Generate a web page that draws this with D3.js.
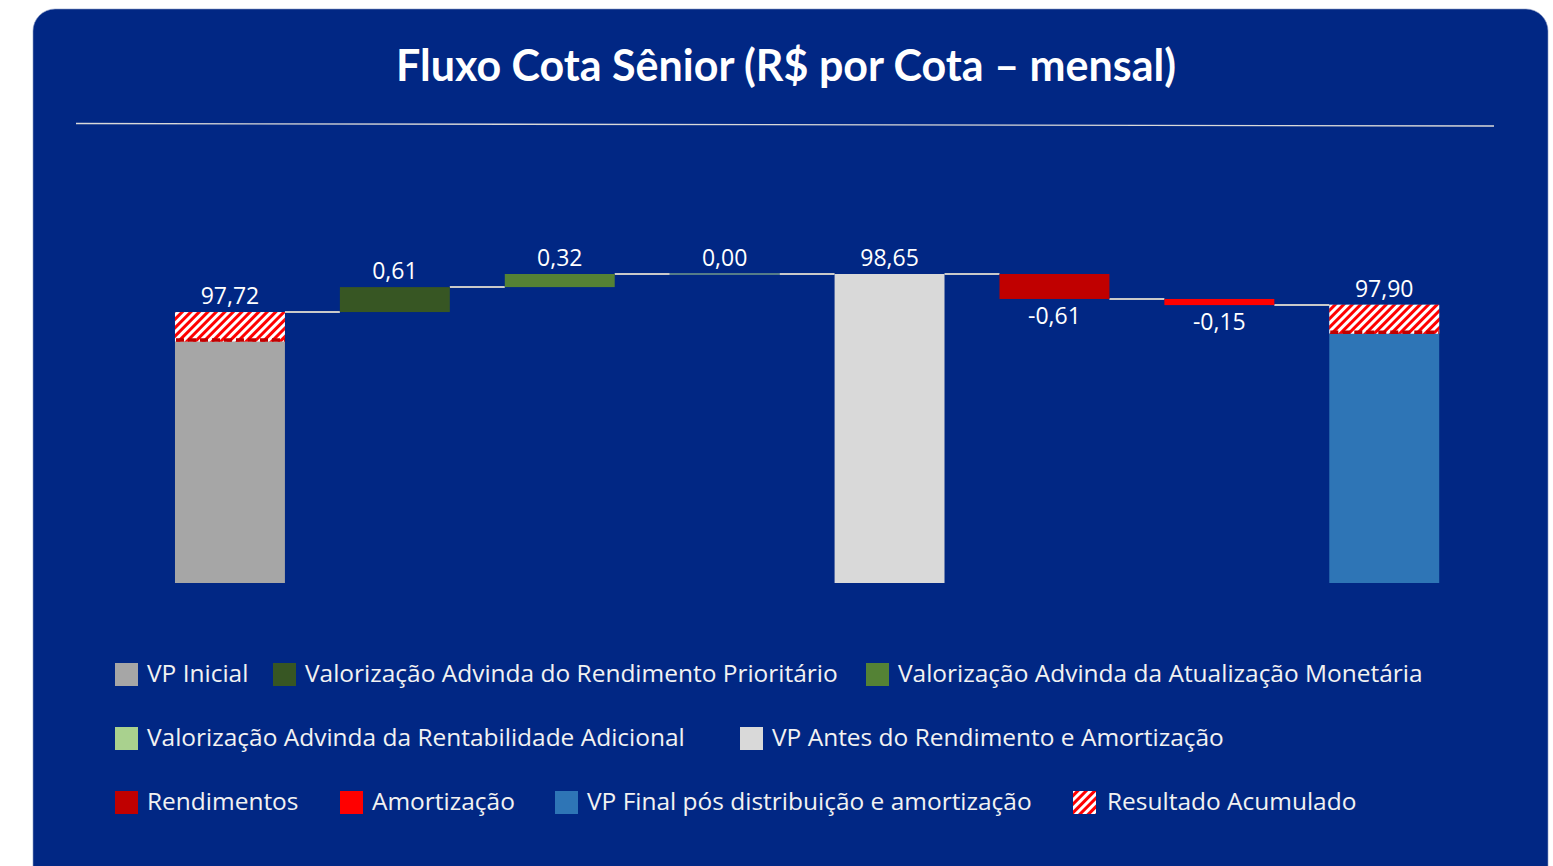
<!DOCTYPE html>
<html>
<head>
<meta charset="utf-8">
<script src="https://cdn.jsdelivr.net/npm/d3@7"></script>
<style>
  html, body { margin: 0; padding: 0; background: #ffffff; }
  svg { display: block; }
</style>
</head>
<body>
<svg id="chart"></svg>
<script>
const categories = [
  "VP Inicial",
  "Valorização Advinda do Rendimento Prioritário",
  "Valorização Advinda da Atualização Monetária",
  "Valorização Advinda da Rentabilidade Adicional",
  "VP Antes do Rendimento e Amortização",
  "Rendimentos",
  "Amortização",
  "VP Final pós distribuição e amortização",
];
const values = [97.72, 0.61, 0.32, 0.0, 98.65, -0.61, -0.15, 97.9];
const barTypes = ["total", "delta", "delta", "delta", "total", "delta", "delta", "total"];
const resultadoAcumulado = [0.72, 0, 0, 0, 0, 0, 0, 0.71];
const labels = ["97,72", "0,61", "0,32", "0,00", "98,65", "-0,61", "-0,15", "97,90"];
const colors = ["#a6a6a6", "#375623", "#548235", "#a9d18e", "#d9d9d9", "#c00000", "#ff0000", "#2e75b6"];
const legendRows = [
  [0, 1, 2],
  [3, 4],
  [5, 6, 7, "resultado"],
];

const width = 1553,
  height = 866;
const bg = "#012784";

const svg = d3.select("#chart").attr("width", width).attr("height", height);

// stripes for "Resultado Acumulado"
const defs = svg.append("defs");
const pat = defs
  .append("pattern")
  .attr("id", "hatch")
  .attr("patternUnits", "userSpaceOnUse")
  .attr("width", 6)
  .attr("height", 6)
  .attr("patternTransform", "rotate(45)");
pat.append("rect").attr("width", 6).attr("height", 6).attr("fill", "#ffffff");
pat.append("rect").attr("width", 3).attr("height", 6).attr("fill", "#ff0000");

// panel
svg
  .append("rect")
  .attr("x", 33)
  .attr("y", 9)
  .attr("width", 1515)
  .attr("height", 880)
  .attr("rx", 22)
  .attr("fill", bg)
  .attr("stroke", "#8c9bc4")
  .attr("stroke-width", 0.6);

// title, fitted to its width
const title = svg
  .append("text")
  .attr("x", 786)
  .attr("y", 81)
  .attr("text-anchor", "middle")
  .attr("fill", "#ffffff")
  .style("font-family", "Lato, 'Open Sans', sans-serif")
  .style("font-weight", 700)
  .style("font-size", "36px")
  .text("Fluxo Cota Sênior (R$ por Cota – mensal)");
const tw = title.node().getComputedTextLength();
title.style("font-size", `${(36 * 780) / tw}px`);

svg
  .append("line")
  .attr("x1", 76)
  .attr("x2", 1494)
  .attr("y1", 123.5)
  .attr("y2", 126)
  .attr("stroke", "#d9d9d9")
  .attr("stroke-width", 1.3);

// scales
const x = d3
  .scaleBand()
  .domain(d3.range(categories.length))
  .range([147.5, 1466.7])
  .paddingInner(1 / 3)
  .paddingOuter(1 / 6);

const y = d3.scaleLinear().domain([91.1, 98.65]).range([583, 274]);

// waterfall steps
let running = 0;
const bars = values.map((v, i) => {
  let lo, hi, end;
  if (barTypes[i] === "total") {
    lo = y.domain()[0];
    hi = v;
    end = v;
  } else {
    lo = Math.min(running, running + v);
    hi = Math.max(running, running + v);
    end = running + v;
  }
  const start = running;
  running = end;
  return { i, v, lo, hi, start, end, type: barTypes[i], res: resultadoAcumulado[i] };
});

const g = svg.append("g");

// connectors
g.selectAll("line.conn")
  .data(bars.slice(0, -1))
  .join("line")
  .attr("class", "conn")
  .attr("x1", (d) => x(d.i) + x.bandwidth())
  .attr("x2", (d) => x(d.i + 1))
  .attr("y1", (d) => y(d.end))
  .attr("y2", (d) => y(d.end))
  .attr("stroke", "#c9c9c9")
  .attr("stroke-width", 2);

// main bars
g.selectAll("rect.bar")
  .data(bars)
  .join("rect")
  .attr("class", "bar")
  .attr("x", (d) => x(d.i))
  .attr("width", x.bandwidth())
  .attr("y", (d) => y(d.hi))
  .attr("height", (d) => Math.max(y(d.lo) - y(d.hi), 0))
  .attr("fill", (d) => colors[d.i]);

// zero-height bar shows as a thin line
g.selectAll("line.zero")
  .data(bars.filter((d) => d.v === 0))
  .join("line")
  .attr("class", "zero")
  .attr("x1", (d) => x(d.i))
  .attr("x2", (d) => x(d.i) + x.bandwidth())
  .attr("y1", (d) => y(d.end))
  .attr("y2", (d) => y(d.end))
  .attr("stroke", colors[3])
  .attr("stroke-width", 1.2);

// resultado acumulado on top of totals
const withRes = bars.filter((d) => d.res > 0);
g.selectAll("rect.res")
  .data(withRes)
  .join("rect")
  .attr("class", "res")
  .attr("x", (d) => x(d.i))
  .attr("width", x.bandwidth())
  .attr("y", (d) => y(d.hi))
  .attr("height", (d) => y(d.hi - d.res) - y(d.hi))
  .attr("fill", "url(#hatch)");

g.selectAll("line.res")
  .data(withRes)
  .join("line")
  .attr("class", "res")
  .attr("x1", (d) => x(d.i) + 1)
  .attr("x2", (d) => x(d.i) + x.bandwidth())
  .attr("y1", (d) => y(d.hi - d.res) - 1.5)
  .attr("y2", (d) => y(d.hi - d.res) - 1.5)
  .attr("stroke", "#c00000")
  .attr("stroke-width", 3.5)
  .attr("stroke-dasharray", "8,4");

// value labels
g.selectAll("text.val")
  .data(bars)
  .join("text")
  .attr("class", "val")
  .attr("x", (d) => x(d.i) + x.bandwidth() / 2)
  .attr("y", (d) => (d.v < 0 ? y(d.lo) + 25 : y(d.hi) - 8))
  .attr("text-anchor", "middle")
  .attr("fill", "#ffffff")
  .style("font-family", "'Open Sans', sans-serif")
  .style("font-size", "23px")
  .text((d) => labels[d.i]);

// legend
const legendX = [
  [115, 273, 866],
  [115, 740],
  [115, 340, 555, 1073],
];
const legendY = [674, 738, 802];
const lg = svg.append("g").style("font-family", "'Open Sans', sans-serif");

legendRows.forEach((row, r) => {
  row.forEach((key, k) => {
    const item = lg.append("g").attr("transform", `translate(${legendX[r][k]},${legendY[r]})`);
    const isRes = key === "resultado";
    item
      .append("rect")
      .attr("x", 0)
      .attr("y", -11)
      .attr("width", 23)
      .attr("height", 23)
      .attr("fill", isRes ? "url(#hatch)" : colors[key]);
    item
      .append("text")
      .attr("class", "leg")
      .attr("x", isRes ? 34 : 32)
      .attr("y", 8)
      .attr("fill", "#f2f2f2")
      .style("font-size", "21px")
      .text(isRes ? "Resultado Acumulado" : categories[key]);
  });
});

// scale legend text so the longest entry spans like the reference
const probe = lg.selectAll("text.leg").filter((d, i, n) => n[i].textContent === categories[1]);
const lw = probe.node().getComputedTextLength();
lg.selectAll("text.leg").style("font-size", `${(21 * 533) / lw}px`);
</script>
</body>
</html>
